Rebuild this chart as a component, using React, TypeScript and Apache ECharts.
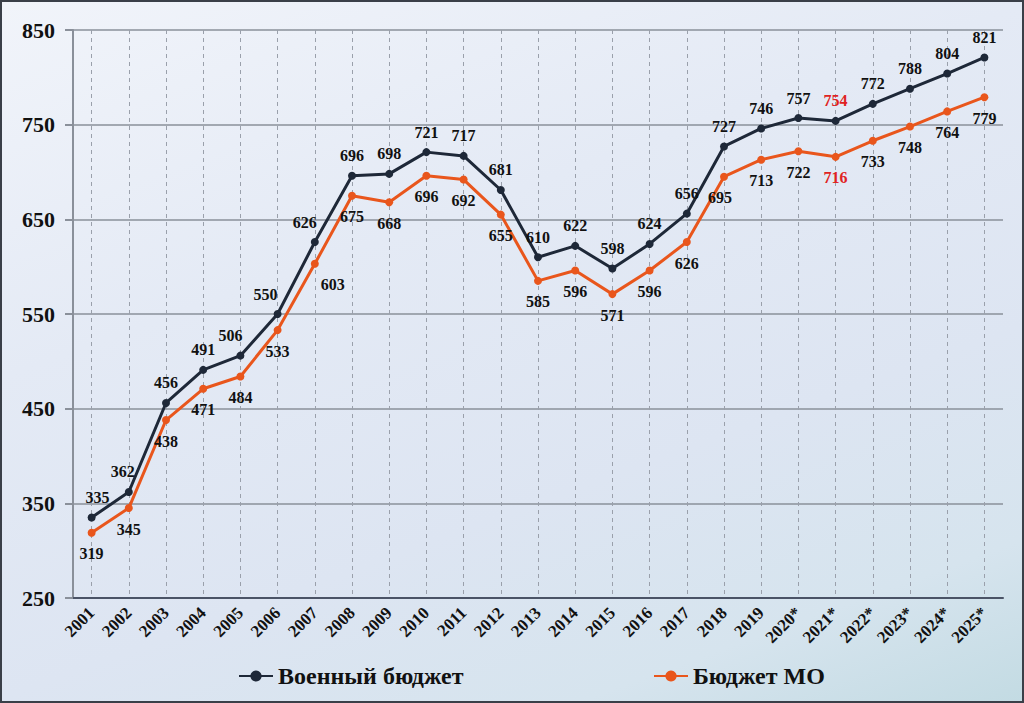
import React, { useEffect, useRef } from "react";
import * as echarts from "echarts";

const years = ["2001","2002","2003","2004","2005","2006","2007","2008","2009","2010","2011","2012","2013","2014","2015","2016","2017","2018","2019","2020*","2021*","2022*","2023*","2024*","2025*"];
const militaryBudget = [335,362,456,491,506,550,626,696,698,721,717,681,610,622,598,624,656,727,746,757,754,772,788,804,821];
const moBudget = [319,345,438,471,484,533,603,675,668,696,692,655,585,596,571,596,626,695,713,722,716,733,748,764,779];
const highlightIndex = 20;

const FONT = "Liberation Serif, Times New Roman, serif";

export default function App() {
  const ref = useRef<HTMLDivElement>(null);
  useEffect(() => {
    if (!ref.current) return;
    const chart = echarts.init(ref.current, null, { renderer: "svg" });
    const darkOffsets: Record<number, number[]> = { 0: [6, 0], 1: [-6, 0], 4: [-10, 0], 5: [-12, 0], 6: [-10, 0] };
    const orangeOffsets: Record<number, number[]> = { 6: [18, 0], 17: [-4, 0] };
    const darkData = militaryBudget.map((v, i) => ({
      value: v,
      label: {
        offset: darkOffsets[i] || [0, 0],
        color: i === highlightIndex ? "#e02222" : "#111",
      },
    }));
    const orangeData = moBudget.map((v, i) => ({
      value: v,
      label: {
        offset: orangeOffsets[i] || [0, 0],
        color: i === highlightIndex ? "#e02222" : "#111",
      },
    }));
    const legendText = { fontFamily: FONT, fontWeight: "bold", fontSize: 24, color: "#111" };
    chart.setOption({
      animation: false,
      grid: { left: 73, right: 21, top: 30, bottom: 105 },
      legend: [
        { data: ["Военный бюджет"], left: 233, top: 659, itemWidth: 34, itemHeight: 14, textStyle: legendText },
        { data: ["Бюджет МО"], left: 648, top: 659, itemWidth: 34, itemHeight: 14, textStyle: legendText },
      ],
      xAxis: {
        type: "category",
        data: years,
        boundaryGap: true,
        axisLine: { lineStyle: { color: "#4a5366", width: 2 } },
        axisTick: { show: false, alignWithLabel: true },
        axisLabel: {
          rotate: 45,
          interval: 0,
          fontFamily: FONT,
          fontWeight: "bold",
          fontSize: 17,
          color: "#111",
          margin: 12,
        },
        splitLine: {
          show: true,
          interval: 0,
          alignWithLabel: true,
          lineStyle: { color: "#9aa0ab", type: [4, 4], width: 1 },
        },
      },
      yAxis: {
        type: "value",
        min: 250,
        max: 850,
        interval: 100,
        axisLine: { show: true, lineStyle: { color: "#8a909a", width: 2 } },
        axisTick: { show: true, length: 8, lineStyle: { color: "#8a909a", width: 2 } },
        axisLabel: { fontFamily: FONT, fontWeight: "bold", fontSize: 22, color: "#111", margin: 18 },
        splitLine: { lineStyle: { color: "#8a909a", width: 1.5 } },
      },
      series: [
        {
          name: "Военный бюджет",
          type: "line",
          data: darkData,
          color: "#1e2838",
          symbol: "circle",
          symbolSize: 8,
          lineStyle: { width: 3, color: "#1e2838" },
          itemStyle: { color: "#1e2838" },
          label: { show: true, position: "top", distance: 8, fontFamily: FONT, fontWeight: "bold", fontSize: 16 },
          z: 3,
        },
        {
          name: "Бюджет МО",
          type: "line",
          data: orangeData,
          color: "#e9561c",
          symbol: "circle",
          symbolSize: 8,
          lineStyle: { width: 3, color: "#e9561c" },
          itemStyle: { color: "#e9561c" },
          label: { show: true, position: "bottom", distance: 9, fontFamily: FONT, fontWeight: "bold", fontSize: 16 },
          z: 2,
        },
      ],
    });
    return () => chart.dispose();
  }, []);
  return (
    <div
      style={{
        position: "fixed",
        left: 0,
        top: 0,
        width: 1024,
        height: 703,
        boxSizing: "border-box",
        border: "2px solid #3a3f48",
        background:
          "linear-gradient(160deg, #f1f4fa 0%, #e4eaf5 35%, #dde5f2 65%, #d6e4ee 85%, #c3dbe3 100%)",
      }}
    >
      <div ref={ref} style={{ position: "absolute", left: -2, top: -2, width: 1024, height: 703 }} />
    </div>
  );
}
